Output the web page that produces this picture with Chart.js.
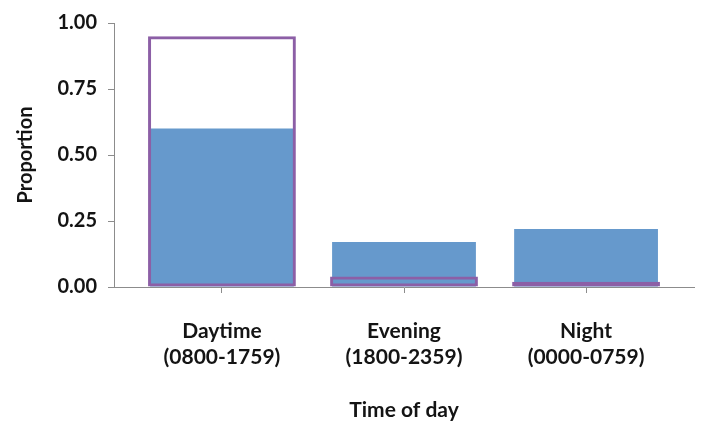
<!DOCTYPE html>
<html>
<head>
<meta charset="utf-8">
<script src="https://cdn.jsdelivr.net/npm/chart.js@4.4.0/dist/chart.umd.min.js"></script>
<style>
  html, body { margin: 0; padding: 0; background: #ffffff; }
  #wrap { width: 701px; height: 425px; position: relative; }
</style>
</head>
<body>
<div id="wrap"><canvas id="c"></canvas></div>
<script>
const categories = [["Daytime", "(0800-1759)"], ["Evening", "(1800-2359)"], ["Night", "(0000-0759)"]];
const filledValues = [0.60, 0.17, 0.22];
const outlineValues = [0.95, 0.04, 0.02];
const yTickValues = [0, 0.25, 0.5, 0.75, 1.0];
const xTitle = "Time of day";
const yTitle = "Proportion";

const FONT = "Lato, 'Open Sans', sans-serif";
const AXIS = "#8c8c8c";
const TEXT = "#141414";

new Chart(document.getElementById('c'), {
  type: 'bar',
  data: {
    datasets: [
      {
        label: 'outline',
        data: outlineValues.map((v, i) => ({ x: i, y: v })),
        backgroundColor: 'rgba(0,0,0,0)',
        borderColor: '#8c5fa6',
        borderWidth: 3,
        borderSkipped: false,
        barPercentage: 0.812,
        categoryPercentage: 1,
        grouped: false,
        order: 0
      },
      {
        label: 'filled',
        data: filledValues.map((v, i) => ({ x: i, y: v })),
        backgroundColor: '#6699cc',
        borderWidth: 0,
        barPercentage: 0.79,
        categoryPercentage: 1,
        grouped: false,
        order: 1
      }
    ]
  },
  options: {
    responsive: true,
    maintainAspectRatio: false,
    animation: false,
    layout: { padding: { left: 0, right: 7, top: 20, bottom: 0 } },
    plugins: { legend: { display: false }, tooltip: { enabled: false } },
    scales: {
      x: {
        type: 'linear',
        offset: false,
        min: -0.593,
        max: 2.593,
        afterBuildTicks: (s) => { s.ticks = categories.map((c, i) => ({ value: i })); },
        afterFit: (s) => { s.height = 138; },
        ticks: {
          autoSkip: false,
          maxRotation: 0,
          color: TEXT,
          font: { family: FONT, size: 21, weight: 'bold', lineHeight: 1.2 },
          padding: 26,
          callback: (v) => categories[v] || ''
        },
        grid: { display: true, offset: false, drawOnChartArea: false, drawTicks: true, tickLength: 6, color: AXIS },
        border: { display: true, color: AXIS, width: 1 },
        title: {
          display: true, text: xTitle, color: TEXT,
          font: { family: FONT, size: 21, weight: 'bold', lineHeight: 1.2 },
          padding: { top: 0, bottom: 2 }
        }
      },
      y: {
        min: 0,
        max: 1,
        afterBuildTicks: (s) => { s.ticks = yTickValues.map(v => ({ value: v })); },
        afterFit: (s) => { s.width = 114; },
        ticks: {
          color: TEXT,
          font: { family: FONT, size: 20, weight: 'bold' },
          padding: 11,
          callback: (v) => Number(v).toFixed(2)
        },
        grid: { display: true, drawOnChartArea: false, drawTicks: true, tickLength: 6, color: AXIS },
        border: { display: true, color: AXIS, width: 1 },
        title: {
          display: true, text: yTitle, color: TEXT,
          font: { family: FONT, size: 20, weight: 'bold', lineHeight: 1.2 },
          padding: { top: 14, bottom: 0 }
        }
      }
    }
  }
});
</script>
</body>
</html>
